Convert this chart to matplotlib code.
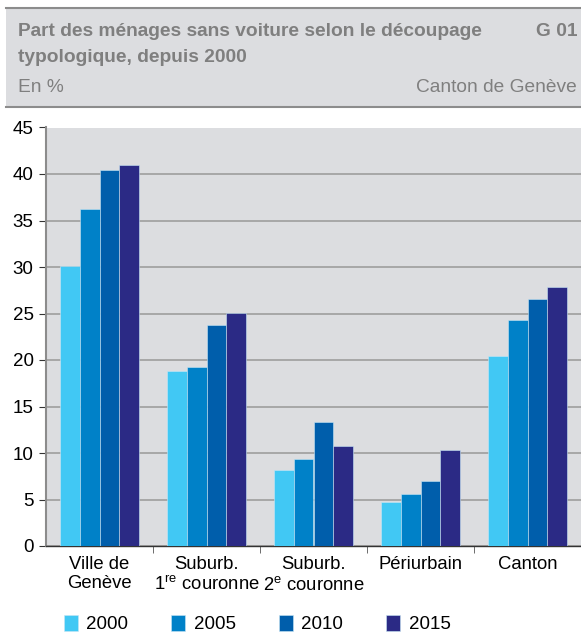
import matplotlib.pyplot as plt
import matplotlib.patches as mpatches
import numpy as np

plt.rcParams['font.family'] = ['Liberation Sans', 'DejaVu Sans']

categories = ["Ville de\nGenève", "Suburb.\n1$^{\\mathregular{re}}$ couronne",
              "Suburb.\n2$^{\\mathregular{e}}$ couronne", "Périurbain", "Canton"]
years = ["2000", "2005", "2010", "2015"]
v2000 = [30.1, 18.8, 8.2, 4.7, 20.4]
v2005 = [36.2, 19.2, 9.4, 5.6, 24.3]
v2010 = [40.4, 23.8, 13.3, 7.0, 26.6]
v2015 = [41.0, 25.1, 10.8, 10.3, 27.8]
series = [v2000, v2005, v2010, v2015]
colors = ["#41c8f4", "#0081c8", "#005eab", "#2b2a85"]

fig = plt.figure(figsize=(5.81, 6.33), dpi=100)
W, H = 581, 633

# header box
fig.patches.append(mpatches.Rectangle((6 / W, 1 - 107 / H), 1 - 6 / W, 99 / H,
                                      transform=fig.transFigure, facecolor="#dcdde0",
                                      edgecolor="none", zorder=0))
for yy in (8, 107):
    fig.add_artist(plt.Line2D([6 / W, 1], [1 - yy / H, 1 - yy / H], transform=fig.transFigure,
                              color="#8c8c8c", lw=1.5))
fig.text(18 / W, 1 - 32 / H, "Part des ménages sans voiture selon le découpage",
         fontsize=13.8, fontweight="bold", color="#7f7f7f", va="center")
fig.text(18 / W, 1 - 58 / H, "typologique, depuis 2000",
         fontsize=13.8, fontweight="bold", color="#7f7f7f", va="center")
fig.text(577 / W, 1 - 32 / H, "G 01", fontsize=13.8, fontweight="bold",
         color="#7f7f7f", va="center", ha="right")
fig.text(18 / W, 1 - 88 / H, "En %", fontsize=13.8, color="#7f7f7f", va="center")
fig.text(577 / W, 1 - 88 / H, "Canton de Genève", fontsize=13.8, color="#7f7f7f",
         va="center", ha="right")

ax = fig.add_axes([46 / W, 1 - 546 / H, 1 - 46 / W, (546 - 127.5) / H])
ax.set_facecolor("#dcdde0")

x = np.arange(len(categories))
w = 0.183
bars = []
for i, vals in enumerate(series):
    b = ax.bar(x + (i - 1.5) * w, vals, width=w, color=colors[i], edgecolor="#c8e6f5",
               linewidth=0.4, zorder=3, label=years[i])
    bars.append(b)

ax.set_xlim(-0.5, 4.5)
ax.set_ylim(0, 45)
ax.set_yticks(np.arange(0, 46, 5))
ax.yaxis.grid(True, color="#a3a3a3", lw=1.3, zorder=1)
ax.set_axisbelow(True)
for s in ("top", "right"):
    ax.spines[s].set_visible(False)
ax.spines["left"].set_color("#8c8c8c")
ax.spines["left"].set_linewidth(1.5)
ax.spines["bottom"].set_color("#333333")
ax.spines["bottom"].set_linewidth(1.0)
ax.tick_params(axis="y", labelsize=13.5, length=5, color="#333333", pad=4)
ax.set_xticks(x)
ax.set_xticklabels(categories, fontsize=13.3, linespacing=1.2)
ax.tick_params(axis="x", which="major", length=0, pad=7)
ax.set_xticks(np.arange(0.5, 4.5, 1), minor=True)
ax.tick_params(axis="x", which="minor", length=5, color="#555555")

fig.legend(handles=bars, labels=years, loc="center left", bbox_to_anchor=(56 / W, 1 - 624 / H),
           ncol=4, frameon=False, fontsize=13.5, handlelength=0.75, handleheight=1.0,
           handletextpad=0.45, columnspacing=2.3, borderaxespad=0.0)

fig.savefig("out.png", dpi=100)
